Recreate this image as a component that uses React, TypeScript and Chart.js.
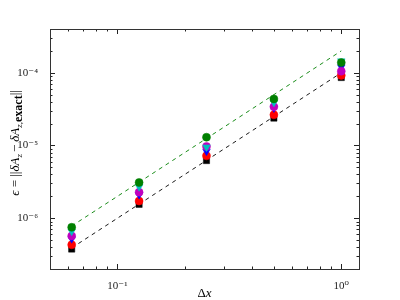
import React, { useEffect, useRef } from "react";
import { Chart, registerables } from "chart.js";

Chart.register(...registerables);

const dx = [1, 0.5, 0.25, 0.125, 0.0625];
const errBlack = [8.6e-5, 2.38e-5, 6.2e-6, 1.55e-6, 3.76e-7];
const errRed = [9.2e-5, 2.64e-5, 7.2e-6, 1.72e-6, 4.3e-7];
const errBlue = [1.2e-4, 3.27e-5, 8.3e-6, 2.1e-6, 5.2e-7];
const errMagenta = [1.05e-4, 3.4e-5, 9.7e-6, 2.28e-6, 5.7e-7];
const errCyan = [1.45e-4, 3.9e-5, 9.5e-6, 2.7e-6, 6.6e-7];
const errGreen = [1.38e-4, 4.37e-5, 1.3e-5, 3.1e-6, 7.5e-7];
const refX = [0.0625, 1];
const refBlack = [3.9e-7, 1e-4];
const refGreen = [7.8e-7, 2e-4];

const X_MIN = 0.05;
const X_MAX = 1.2;
const Y_MIN = 2e-7;
const Y_MAX = 4e-4;

const FAM = "'Liberation Serif', 'DejaVu Serif', serif";

const SUP: Record<string, string> = { "-": "⁻", "0": "⁰", "1": "¹", "2": "²", "3": "³", "4": "⁴", "5": "⁵", "6": "⁶", "7": "⁷", "8": "⁸", "9": "⁹" };
const powLabel = (v: number) => {
  const l = Math.log10(v);
  const r = Math.round(l);
  if (Math.abs(l - r) > 1e-6) return "";
  return "10" + String(r).split("").map((c) => SUP[c]).join("");
};

const pts = (xs: number[], ys: number[]) => xs.map((x, i) => ({ x, y: ys[i] }));

const logTicks = (min: number, max: number) => {
  const out: { v: number; major: boolean }[] = [];
  for (let e = Math.floor(Math.log10(min)); e <= Math.ceil(Math.log10(max)); e++) {
    for (let m = 1; m <= 9; m++) {
      const v = m * Math.pow(10, e);
      if (v >= min * 0.9999 && v <= max * 1.0001) out.push({ v, major: m === 1 });
    }
  }
  return out;
};

const framePlugin = {
  id: "frame",
  afterDatasetsDraw(chart: any) {
    const { ctx, chartArea: a, scales } = chart;
    ctx.save();
    ctx.strokeStyle = "#222";
    ctx.lineWidth = 1;
    for (const t of logTicks(X_MIN, X_MAX)) {
      const px = Math.round(scales.x.getPixelForValue(t.v)) + 0.5;
      const len = t.major ? 5 : 2.5;
      ctx.beginPath();
      ctx.moveTo(px, a.bottom);
      ctx.lineTo(px, a.bottom - len);
      ctx.moveTo(px, a.top);
      ctx.lineTo(px, a.top + len);
      ctx.stroke();
    }
    for (const t of logTicks(Y_MIN, Y_MAX)) {
      const py = Math.round(scales.y.getPixelForValue(t.v)) + 0.5;
      const len = t.major ? 5 : 2.5;
      ctx.beginPath();
      ctx.moveTo(a.left, py);
      ctx.lineTo(a.left + len, py);
      ctx.moveTo(a.right, py);
      ctx.lineTo(a.right - len, py);
      ctx.stroke();
    }
    ctx.strokeStyle = "#333";
    ctx.strokeRect(Math.round(a.left) + 0.5, Math.round(a.top) + 0.5, Math.round(a.right - a.left), Math.round(a.bottom - a.top));
    ctx.restore();
  },
  afterDraw(chart: any) {
    const { ctx, chartArea: a } = chart;
    ctx.save();
    ctx.fillStyle = "#000";
    ctx.textBaseline = "alphabetic";
    const xsegs = [
      { t: "Δ", f: `13px ${FAM}`, dy: 0, g: 0 },
      { t: "x", f: `italic 13px ${FAM}`, dy: 0, g: 0 },
    ];
    let w = 0;
    for (const s of xsegs) { ctx.font = s.f; w += ctx.measureText(s.t).width + s.g; }
    let cx = (a.left + a.right) / 2 - w / 2;
    for (const s of xsegs) { ctx.font = s.f; ctx.fillText(s.t, cx, 297 + s.dy); cx += ctx.measureText(s.t).width + s.g; }
    const ysegs = [
      { t: "ϵ", f: `italic 13px ${FAM}`, dy: 0, g: 0 },
      { t: " = ", f: `13px ${FAM}`, dy: 0, g: 0 },
      { t: "||", f: `13px ${FAM}`, dy: 0, g: 0 },
      { t: "δ", f: `italic 13px ${FAM}`, dy: 0, g: 0 },
      { t: "A", f: `italic 13px ${FAM}`, dy: 0, g: 0 },
      { t: "z", f: `italic 9px ${FAM}`, dy: 3, g: 2 },
      { t: "−", f: `13px ${FAM}`, dy: 0, g: 3 },
      { t: "δ", f: `italic 13px ${FAM}`, dy: 0, g: 0 },
      { t: "A", f: `italic 13px ${FAM}`, dy: 0, g: 0 },
      { t: "z,", f: `italic 9px ${FAM}`, dy: 3, g: 0 },
      { t: "exact", f: `bold 12px ${FAM}`, dy: 3, g: 0 },
      { t: "||", f: `13px ${FAM}`, dy: 0, g: 0 },
    ];
    w = 0;
    for (const s of ysegs) { ctx.font = s.f; w += ctx.measureText(s.t).width + s.g; }
    ctx.translate(19, (a.top + a.bottom) / 2 - 6);
    ctx.rotate(-Math.PI / 2);
    cx = -w / 2;
    for (const s of ysegs) { ctx.font = s.f; ctx.fillText(s.t, cx, s.dy); cx += ctx.measureText(s.t).width + s.g; }
    ctx.restore();
  },
};

const scatterDs = (label: string, ys: number[], color: string, style: string, rot: number, order: number) => ({
  type: "scatter" as const,
  label,
  data: pts(dx, ys),
  backgroundColor: color,
  borderColor: color,
  pointStyle: style,
  rotation: rot,
  pointRadius: style === "rect" ? 4.4 : style === "triangle" ? 4.4 : 4,
  borderWidth: 0.5,
  order,
});

export default function App() {
  const ref = useRef<HTMLCanvasElement>(null);
  useEffect(() => {
    document.body.style.margin = "0";
    const chart = new Chart(ref.current!, {
      type: "scatter",
      data: {
        datasets: [
          {
            type: "line",
            label: "ref2",
            data: pts(refX, refGreen),
            borderColor: "#008000",
            borderWidth: 0.9,
            borderDash: [4, 4],
            pointRadius: 0,
            fill: false,
            order: 8,
          } as any,
          {
            type: "line",
            label: "ref1",
            data: pts(refX, refBlack),
            borderColor: "#000000",
            borderWidth: 0.9,
            borderDash: [4, 4],
            pointRadius: 0,
            fill: false,
            order: 7,
          } as any,
          scatterDs("black", errBlack, "#000000", "rect", 0, 6),
          scatterDs("red", errRed, "#ff0000", "circle", 0, 5),
          scatterDs("blue", errBlue, "#0000ff", "triangle", 180, 4),
          scatterDs("magenta", errMagenta, "#bf00bf", "circle", 0, 3),
          scatterDs("cyan", errCyan, "#00bfbf", "triangle", 180, 2),
          scatterDs("green", errGreen, "#008000", "circle", 0, 1),
        ],
      },
      options: {
        animation: false,
        responsive: false,
        maintainAspectRatio: false,
        layout: { padding: { top: 29, right: 41, left: 0, bottom: 0 } },
        plugins: { legend: { display: false }, tooltip: { enabled: false } },
        scales: {
          x: {
            type: "logarithmic",
            min: X_MIN,
            max: X_MAX,
            grid: { display: false },
            border: { display: false },
            afterFit: (s: any) => { s.height = 31; },
            ticks: {
              autoSkip: false,
              maxRotation: 0,
              padding: 3,
              color: "#222",
              font: { family: FAM, size: 11 },
              callback: (v: any) => powLabel(Number(v)),
            },
          },
          y: {
            type: "logarithmic",
            min: Y_MIN,
            max: Y_MAX,
            grid: { display: false },
            border: { display: false },
            afterFit: (s: any) => { s.width = 50; },
            ticks: {
              autoSkip: false,
              padding: 4,
              color: "#222",
              font: { family: FAM, size: 11 },
              callback: (v: any) => powLabel(Number(v)),
            },
          },
        },
      },
      plugins: [framePlugin],
    });
    return () => chart.destroy();
  }, []);
  return (
    <div style={{ position: "absolute", left: 0, top: 0, width: 400, height: 300 }}>
      <canvas ref={ref} width={400} height={300} style={{ width: 400, height: 300 }} />
    </div>
  );
}
